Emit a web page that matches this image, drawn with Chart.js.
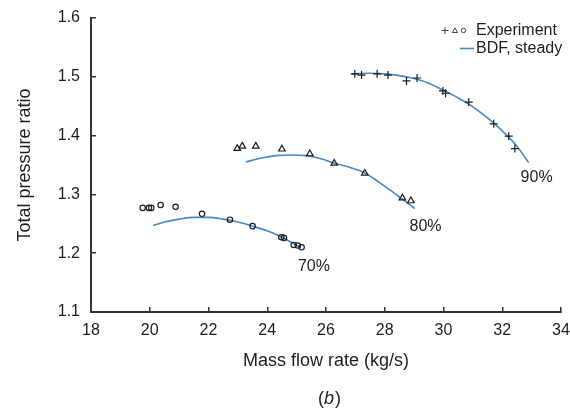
<!DOCTYPE html>
<html>
<head>
<meta charset="utf-8">
<script src="https://cdn.jsdelivr.net/npm/chart.js@4.4.1/dist/chart.umd.min.js"></script>
<style>
  html, body { margin: 0; padding: 0; background: #fff; }
</style>
</head>
<body>
<canvas id="pr" width="570" height="414"></canvas>
<script>
'use strict';

/* measured points, per speed line */
var exp90X = [26.98, 27.21, 27.74, 28.11, 28.74, 29.10, 29.98, 30.07, 30.86, 31.71, 32.22, 32.43];
var exp90Y = [1.505, 1.503, 1.505, 1.503, 1.493, 1.498, 1.476, 1.472, 1.457, 1.420, 1.399, 1.378];
var exp80X = [22.98, 23.15, 23.61, 24.50, 25.45, 26.28, 27.32, 28.60, 28.89];
var exp80Y = [1.378, 1.382, 1.382, 1.377, 1.369, 1.353, 1.336, 1.294, 1.289];
var exp70X = [19.76, 19.97, 20.05, 20.37, 20.88, 21.78, 22.73, 23.50, 24.48, 24.57, 24.90, 25.04, 25.17];
var exp70Y = [1.277, 1.277, 1.277, 1.282, 1.279, 1.267, 1.257, 1.246, 1.227, 1.226, 1.214, 1.213, 1.210];

/* BDF steady characteristics */
var bdf90X = [26.87, 27.5, 28.0, 28.5, 29.0, 29.5, 30.0, 30.5, 31.0, 31.5, 32.0, 32.5, 32.9];
var bdf90Y = [1.505, 1.506, 1.505, 1.502, 1.497, 1.489, 1.477, 1.464, 1.449, 1.430, 1.408, 1.382, 1.354];
var bdf80X = [23.27, 23.8, 24.3, 24.8, 25.3, 25.8, 26.3, 26.8, 27.3, 27.8, 28.3, 28.7, 29.02];
var bdf80Y = [1.355, 1.362, 1.366, 1.367, 1.366, 1.361, 1.353, 1.346, 1.337, 1.321, 1.303, 1.288, 1.276];
var bdf70X = [20.12, 20.5, 21.0, 21.5, 22.0, 22.5, 23.0, 23.5, 24.0, 24.5, 25.15];
var bdf70Y = [1.247, 1.253, 1.258, 1.261, 1.261, 1.258, 1.253, 1.246, 1.238, 1.227, 1.209];

/* axes */
var xTicks = [18, 20, 22, 24, 26, 28, 30, 32, 34];
var yTicks = [1.1, 1.2, 1.3, 1.4, 1.5, 1.6];

/* speed labels next to the curves */
var speedLabels = ['90%', '80%', '70%'];
var speedLabelX = [33.17, 29.39, 25.59];
var speedLabelY = [1.328, 1.246, 1.177];

var FONT = '"Liberation Sans", Arial, sans-serif';
var INK = '#1e1e1e';
var BLUE = '#4a88c6';

function pts(xs, ys) {
  return xs.map(function(x, i) { return {x: x, y: ys[i]}; });
}

function expSet(label, xs, ys, style, r) {
  return {
    label: label,
    data: pts(xs, ys),
    showLine: false,
    pointStyle: style,
    pointRadius: r,
    pointBorderWidth: 1.2,
    pointBorderColor: INK,
    pointBackgroundColor: 'rgba(255,255,255,0)'
  };
}

function bdfSet(label, xs, ys) {
  return {
    label: label,
    data: pts(xs, ys),
    showLine: true,
    borderColor: BLUE,
    borderWidth: 1.6,
    pointRadius: 0,
    cubicInterpolationMode: 'monotone'
  };
}

/* speed labels + legend + (b) caption */
var extras = {
  id: 'extras',
  afterDraw: function(chart) {
    var ctx = chart.ctx;
    var xs = chart.scales.x, ys = chart.scales.y;
    ctx.save();
    ctx.fillStyle = INK;
    ctx.font = '16px ' + FONT;
    ctx.textAlign = 'center';
    ctx.textBaseline = 'middle';
    speedLabels.forEach(function(t, i) {
      ctx.fillText(t, xs.getPixelForValue(speedLabelX[i]), ys.getPixelForValue(speedLabelY[i]));
    });

    // legend
    var ly1 = 30.5, ly2 = 48.5;
    ctx.strokeStyle = '#444';
    ctx.lineWidth = 1;
    ctx.beginPath();
    ctx.moveTo(441.5, ly1); ctx.lineTo(448.5, ly1);
    ctx.moveTo(445, ly1 - 3.5); ctx.lineTo(445, ly1 + 3.5);
    ctx.moveTo(455, ly1 - 2.6); ctx.lineTo(457.6, ly1 + 2); ctx.lineTo(452.4, ly1 + 2); ctx.closePath();
    ctx.stroke();
    ctx.beginPath();
    ctx.arc(463.5, ly1, 2.2, 0, Math.PI * 2);
    ctx.stroke();
    ctx.strokeStyle = BLUE;
    ctx.lineWidth = 1.6;
    ctx.beginPath();
    ctx.moveTo(460, ly2); ctx.lineTo(474, ly2);
    ctx.stroke();
    ctx.textAlign = 'left';
    ctx.fillText('Experiment', 476, ly1);
    ctx.fillText('BDF, steady', 476, ly2);

    // caption, italic b
    var cx = 329, cy = 399;
    ctx.font = '18px ' + FONT;
    var wp = ctx.measureText('(').width;
    var wq = ctx.measureText(')').width;
    ctx.font = 'italic 18px ' + FONT;
    var wb = ctx.measureText('b').width;
    var x0 = cx - (wp + wb + wq) / 2;
    ctx.font = '18px ' + FONT;
    ctx.fillText('(', x0, cy);
    ctx.font = 'italic 18px ' + FONT;
    ctx.fillText('b', x0 + wp, cy);
    ctx.font = '18px ' + FONT;
    ctx.fillText(')', x0 + wp + wb + 1, cy);
    ctx.restore();
  }
};

var axisGrid = {
  display: true,
  drawOnChartArea: false,
  drawTicks: true,
  tickLength: -5,
  color: '#333',
  lineWidth: 1.5
};
var axisBorder = {display: true, color: '#333', width: 2};

new Chart(document.getElementById('pr'), {
  type: 'scatter',
  data: {
    datasets: [
      expSet('Experiment 90%', exp90X, exp90Y, 'cross', 4),
      expSet('Experiment 80%', exp80X, exp80Y, 'triangle', 3.8),
      expSet('Experiment 70%', exp70X, exp70Y, 'circle', 2.7),
      bdfSet('BDF 90%', bdf90X, bdf90Y),
      bdfSet('BDF 80%', bdf80X, bdf80Y),
      bdfSet('BDF 70%', bdf70X, bdf70Y)
    ]
  },
  options: {
    responsive: false,
    devicePixelRatio: 1,
    animation: false,
    layout: {padding: {top: 18, right: 9, left: 0, bottom: 0}},
    plugins: {
      legend: {display: false},
      tooltip: {enabled: false}
    },
    scales: {
      x: {
        type: 'linear',
        min: 18, max: 34,
        afterFit: function(s) {
          s.height = 102;
          s.paddingLeft = 0; s.paddingRight = 0;
        },
        afterBuildTicks: function(s) { s.ticks = xTicks.map(function(v) { return {value: v}; }); },
        grid: axisGrid,
        border: axisBorder,
        ticks: {
          padding: 14,
          color: INK,
          maxRotation: 0,
          font: {family: FONT, size: 16},
          callback: function(v) { return String(v); }
        },
        title: {
          display: true,
          text: 'Mass flow rate (kg/s)',
          color: INK,
          font: {family: FONT, size: 18},
          padding: {top: 0, bottom: 42}
        }
      },
      y: {
        type: 'linear',
        min: 1.1, max: 1.6,
        afterFit: function(s) {
          s.width = 91;
          s.paddingTop = 0; s.paddingBottom = 0;
        },
        afterBuildTicks: function(s) { s.ticks = yTicks.map(function(v) { return {value: v}; }); },
        grid: axisGrid,
        border: axisBorder,
        ticks: {
          padding: 16,
          color: INK,
          font: {family: FONT, size: 16},
          callback: function(v) { return Number(v).toFixed(1); }
        },
        title: {
          display: true,
          text: 'Total pressure ratio',
          color: INK,
          font: {family: FONT, size: 18},
          padding: {top: 14, bottom: 0}
        }
      }
    }
  },
  plugins: [extras]
});
</script>
</body>
</html>
